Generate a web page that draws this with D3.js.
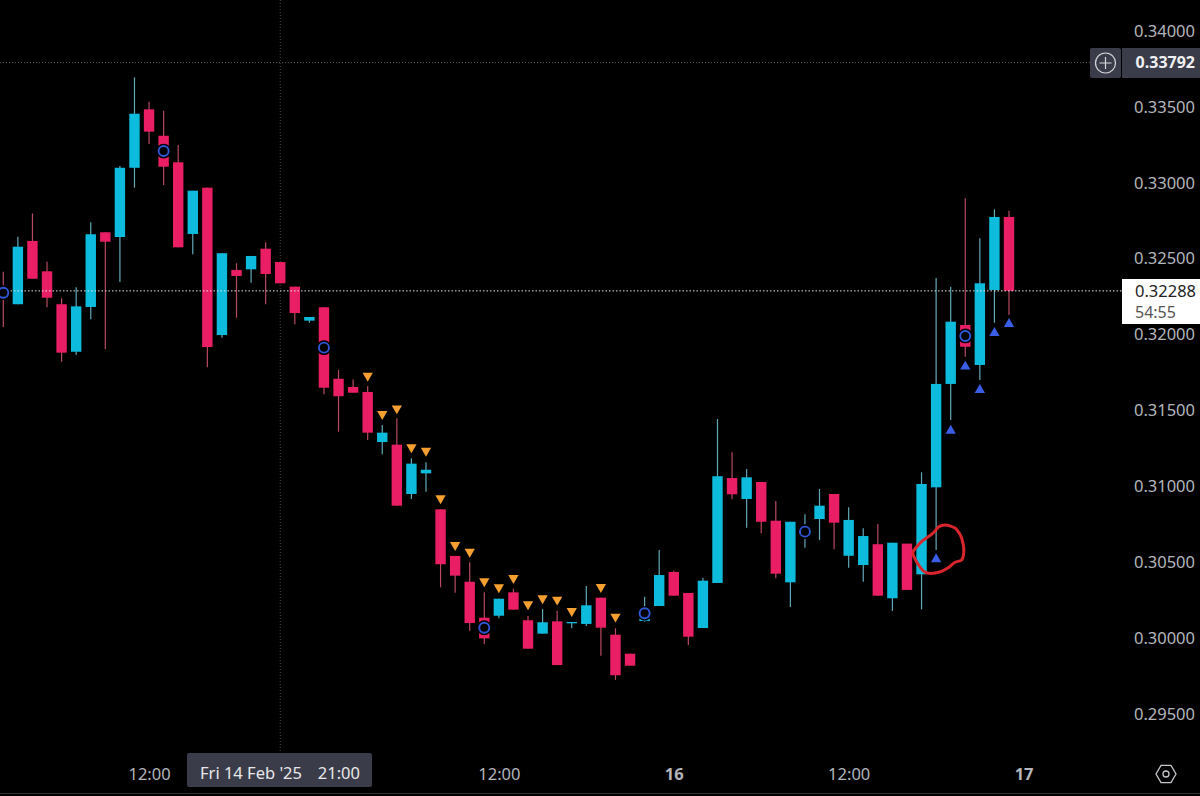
<!DOCTYPE html>
<html>
<head>
<meta charset="utf-8">
<script src="https://cdn.jsdelivr.net/npm/d3@7"></script>
<style>
	html, body { margin: 0; padding: 0; background: #000; overflow: hidden; }
	text { font-family: "Noto Sans", sans-serif; }
</style>
</head>
<body>
<svg id="chart"></svg>
<script>
var width = 1200;
var height = 796;

// hourly candles, index 0 is Fri 14 Feb 02:00
var opens = [0.32300,0.32200,0.32617,0.32417,0.32200,0.31887,0.32182,0.32674,0.32643,0.33099,
	0.33484,0.33310,0.33135,0.32663,0.32968,0.31997,0.32426,0.32430,0.32566,0.32478,
	0.32316,0.32092,0.32180,0.31709,0.31655,0.31622,0.31292,0.31275,0.30950,0.31086,
	0.30849,0.30542,0.30372,0.30135,0.30148,0.30302,0.30118,0.30030,0.30111,0.30098,
	0.30094,0.30267,0.30023,0.29898,0.30113,0.30212,0.30436,0.30298,0.30067,0.30364,
	0.31055,0.30917,0.31029,0.30774,0.30368,0.30673,0.30785,0.30950,0.30543,0.30482,
	0.30619,0.30263,0.30623,0.30421,0.30994,0.31675,0.32063,0.31800,0.32294,0.32775];
var highs = [0.32414,0.32645,0.32799,0.32480,0.32239,0.32312,0.32740,0.32674,0.33111,0.33695,
	0.33534,0.33475,0.33249,0.32948,0.32968,0.32536,0.32470,0.32518,0.32608,0.32478,
	0.32316,0.32116,0.32180,0.31767,0.31705,0.31661,0.31404,0.31449,0.31185,0.31159,
	0.30849,0.30542,0.30500,0.30302,0.30260,0.30326,0.30146,0.30192,0.30181,0.30107,
	0.30344,0.30267,0.30065,0.29898,0.30273,0.30581,0.30445,0.30298,0.30399,0.31444,
	0.31225,0.31115,0.31029,0.30904,0.30767,0.30816,0.30983,0.30950,0.30862,0.30724,
	0.30752,0.30629,0.30623,0.31093,0.32373,0.32316,0.32898,0.32634,0.32825,0.32816];
var lows = [0.32050,0.32200,0.32368,0.32180,0.31821,0.31866,0.32101,0.31903,0.32346,0.32968,
	0.33256,0.32986,0.32575,0.32529,0.31785,0.31980,0.32111,0.32342,0.32200,0.32338,
	0.32068,0.32078,0.31607,0.31360,0.31617,0.31306,0.31211,0.30873,0.30917,0.30965,
	0.30335,0.30300,0.30049,0.29962,0.30131,0.30188,0.29931,0.30030,0.29823,0.30065,
	0.30080,0.29885,0.29725,0.29819,0.30109,0.30212,0.30280,0.29955,0.30067,0.30364,
	0.30915,0.30728,0.30691,0.30395,0.30205,0.30596,0.30647,0.30586,0.30464,0.30372,
	0.30280,0.30179,0.30318,0.30190,0.30581,0.31437,0.31854,0.31701,0.32078,0.32129];
var closes = [0.32261,0.32579,0.32368,0.32243,0.31881,0.32186,0.32661,0.32612,0.33099,0.33455,
	0.33337,0.33106,0.32575,0.32948,0.31918,0.32536,0.32386,0.32518,0.32399,0.32338,
	0.32142,0.32116,0.31650,0.31594,0.31617,0.31354,0.31354,0.30873,0.31150,0.31110,
	0.30487,0.30412,0.30100,0.29999,0.30260,0.30188,0.29931,0.30105,0.29823,0.30107,
	0.30217,0.30069,0.29756,0.29819,0.30179,0.30416,0.30280,0.30010,0.30379,0.31067,
	0.30948,0.31060,0.30767,0.30425,0.30767,0.30726,0.30873,0.30761,0.30779,0.30673,
	0.30280,0.30629,0.30318,0.31016,0.31675,0.32085,0.31920,0.32338,0.32775,0.32288];

var sellIndex = [25,26,27,28,29,30,31,32,33,34,35,36,37,38,39,41,42];
var sellPrice = [0.31729,0.31477,0.31514,0.31258,0.31235,0.30922,0.30614,0.30570,0.30375,0.30335,0.30397,0.30223,0.30263,0.30254,0.30179,0.30337,0.30142];
var buyIndex = [64,65,66,67,68,69];
var buyPrice = [0.30520,0.31367,0.31789,0.31635,0.32011,0.32070];
var ringIndex = [0,11,22,33,44,55,66];
var ringPrice = [0.32276,0.33209,0.31914,0.30069,0.30164,0.30702,0.31991];

// the hand drawn loop around the first buy signal, as candle index and price
var loopIndex = [62.4,62.7,63.0,63.8,64.2,64.6,65.0,65.3,65.6,65.75,65.9,65.75,65.3,64.8,64.3,63.4,63.1,62.8];
var loopPrice = [0.30563,0.30605,0.30636,0.30693,0.30735,0.30745,0.30738,0.30726,0.30690,0.30660,0.30570,0.30515,0.30500,0.30462,0.30438,0.30429,0.30445,0.30482];

var priceTicks = [0.295,0.30,0.305,0.31,0.315,0.32,0.325,0.33,0.335,0.34];
var timeTicks = [10,34,46,58,70];
var timeLabels = ["12:00","12:00","16","12:00","17"];
var boldTicks = ["16","17"];

var lastPrice = 0.32288;
var crossPrice = 0.33792;
var crossIndex = 19;

var upColor = "#0dbcdc";
var downColor = "#ea1e65";
var upWick = "#62a9b8";
var downWick = "#b84a62";
var axisColor = "#b4b6bc";
var tagColor = "#3a3d49";

var candles = opens.map(function (o, i) {
	return {i: i, open: o, high: highs[i], low: lows[i], close: closes[i]};
});

var x = d3.scaleLinear().domain([0, 69]).range([3.3, 1009]);
var y = d3.scaleLinear().domain([0.295, 0.34]).range([714.1, 31]);

var svg = d3.select("#chart")
.attr("width", width)
.attr("height", height)
.style("display", "block")
.style("background", "#000");

// crosshair, behind the candles
svg.append("line")
.attr("x1", x(crossIndex))
.attr("x2", x(crossIndex))
.attr("y1", 0)
.attr("y2", 752)
.attr("stroke", "#4a4a4a")
.attr("stroke-dasharray", "1 2");

svg.append("line")
.attr("x1", 0)
.attr("x2", 1090)
.attr("y1", y(crossPrice))
.attr("y2", y(crossPrice))
.attr("stroke", "#5a5a5a")
.attr("stroke-dasharray", "1 2");

var candle = svg.append("g").selectAll("g")
.data(candles)
.enter()
.append("g");

candle.append("line")
.attr("x1", function (d) { return x(d.i); })
.attr("x2", function (d) { return x(d.i); })
.attr("y1", function (d) { return y(d.high); })
.attr("y2", function (d) { return y(d.low); })
.attr("stroke", function (d) { return d.close >= d.open ? upWick : downWick; })
.attr("stroke-width", 1.2);

candle.append("rect")
.attr("x", function (d) { return x(d.i) - 5.2; })
.attr("width", 10.4)
.attr("y", function (d) { return y(Math.max(d.open, d.close)); })
.attr("height", function (d) { return Math.max(1, Math.abs(y(d.open) - y(d.close))); })
.attr("fill", function (d) { return d.close >= d.open ? upColor : downColor; });

// last price line goes over the bodies
svg.append("line")
.attr("x1", 0)
.attr("x2", 1122)
.attr("y1", y(lastPrice))
.attr("y2", y(lastPrice))
.attr("stroke", "#e6e6e6")
.attr("stroke-dasharray", "1.5 2");

var triangle = d3.symbol().type(d3.symbolTriangle).size(46);

svg.append("g").selectAll("path")
.data(sellIndex)
.enter()
.append("path")
.attr("d", triangle)
.attr("transform", function (d, i) {
	return "translate(" + x(d) + "," + y(sellPrice[i]) + ") rotate(180)";
})
.attr("fill", "#f5a030");

svg.append("g").selectAll("path")
.data(buyIndex)
.enter()
.append("path")
.attr("d", triangle)
.attr("transform", function (d, i) {
	return "translate(" + x(d) + "," + y(buyPrice[i]) + ")";
})
.attr("fill", "#3a5ee6");

var ring = svg.append("g").selectAll("g")
.data(ringIndex)
.enter()
.append("g")
.attr("transform", function (d, i) {
	return "translate(" + x(d) + "," + y(ringPrice[i]) + ")";
});

ring.append("circle")
.attr("r", 7.4)
.attr("fill", "#000");

ring.append("circle")
.attr("r", 5)
.attr("fill", "none")
.attr("stroke", "#2f57d8")
.attr("stroke-width", 1.9);

var loop = d3.line()
.x(function (d) { return x(d); })
.y(function (d, i) { return y(loopPrice[i]); })
.curve(d3.curveCatmullRomClosed);

svg.append("path")
.attr("d", loop(loopIndex))
.attr("fill", "none")
.attr("stroke", "#d8262c")
.attr("stroke-width", 3);

// price axis
var yAxis = d3.axisRight(y)
.tickValues(priceTicks)
.tickFormat(d3.format(".5f"))
.tickSize(0)
.tickPadding(0);

var yAxisGroup = svg.append("g")
.attr("transform", "translate(1195,0)")
.call(yAxis);

yAxisGroup.select(".domain").remove();
yAxisGroup.selectAll("text")
.attr("x", 0)
.attr("text-anchor", "end")
.attr("fill", axisColor)
.style("font-size", "16.5px");

// time axis
var xAxis = d3.axisBottom(x)
.tickValues(timeTicks)
.tickFormat(function (d, i) { return timeLabels[i]; })
.tickSize(0)
.tickPadding(0);

var xAxisGroup = svg.append("g")
.attr("transform", "translate(0,765)")
.call(xAxis);

xAxisGroup.select(".domain").remove();
xAxisGroup.selectAll("text")
.attr("y", 0)
.attr("dy", "0.9em")
.attr("fill", axisColor)
.style("font-size", "16.5px")
.style("font-weight", function (d, i) {
	return boldTicks.indexOf(timeLabels[i]) >= 0 ? "bold" : "normal";
});

svg.append("line")
.attr("x1", 0)
.attr("x2", width)
.attr("y1", 793.5)
.attr("y2", 793.5)
.attr("stroke", "#333");

// crosshair time tag
svg.append("rect")
.attr("x", 187)
.attr("y", 753)
.attr("width", 185)
.attr("height", 34)
.attr("rx", 2)
.attr("fill", tagColor);

svg.append("text")
.attr("x", 200)
.attr("y", 779)
.attr("fill", "#e8e8ea")
.style("font-size", "16.5px")
.text("Fri 14 Feb '25");

svg.append("text")
.attr("x", 360)
.attr("y", 779)
.attr("text-anchor", "end")
.attr("fill", "#e8e8ea")
.style("font-size", "16.5px")
.text("21:00");

// crosshair price tag and plus button
svg.append("rect")
.attr("x", 1090)
.attr("y", 48)
.attr("width", 31)
.attr("height", 30)
.attr("rx", 2)
.attr("fill", tagColor);

svg.append("circle")
.attr("cx", 1105.5)
.attr("cy", 63)
.attr("r", 10)
.attr("fill", "none")
.attr("stroke", "#d8d8dc")
.attr("stroke-width", 1.2);

svg.append("path")
.attr("d", "M1099.5 63H1111.5M1105.5 57V69")
.attr("stroke", "#d8d8dc")
.attr("stroke-width", 1.2);

svg.append("rect")
.attr("x", 1122)
.attr("y", 48)
.attr("width", 78)
.attr("height", 30)
.attr("fill", tagColor);

svg.append("text")
.attr("x", 1195)
.attr("y", y(crossPrice))
.attr("dy", "0.35em")
.attr("text-anchor", "end")
.attr("fill", "#f0f0f2")
.style("font-size", "16px")
.style("font-weight", "bold")
.text(d3.format(".5f")(crossPrice));

// last price tag with the countdown
svg.append("rect")
.attr("x", 1122)
.attr("y", 279)
.attr("width", 78)
.attr("height", 45)
.attr("fill", "#fff");

svg.append("text")
.attr("x", 1135)
.attr("y", y(lastPrice))
.attr("dy", "0.35em")
.attr("fill", "#222")
.style("font-size", "16.5px")
.text(d3.format(".5f")(lastPrice));

svg.append("text")
.attr("x", 1135)
.attr("y", 312)
.attr("dy", "0.35em")
.attr("fill", "#555")
.style("font-size", "16px")
.text("54:55");

// settings icon
var hexagon = d3.range(6).map(function (k) {
	var a = Math.PI / 3 * k;
	return [1166 + 10 * Math.cos(a), 774 + 10 * Math.sin(a)];
});

svg.append("path")
.attr("d", d3.line()(hexagon) + "Z")
.attr("fill", "none")
.attr("stroke", "#c4c6cc")
.attr("stroke-width", 1.3);

svg.append("circle")
.attr("cx", 1166)
.attr("cy", 774)
.attr("r", 3)
.attr("fill", "none")
.attr("stroke", "#c4c6cc")
.attr("stroke-width", 1.3);
</script>
</body>
</html>
